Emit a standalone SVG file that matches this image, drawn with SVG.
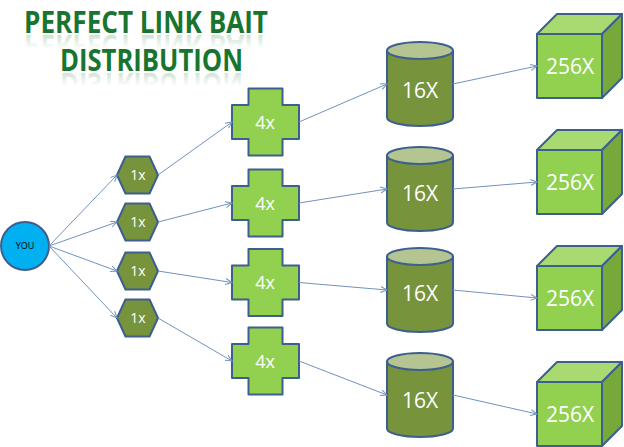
<svg xmlns="http://www.w3.org/2000/svg" xmlns:xlink="http://www.w3.org/1999/xlink" width="624" height="447" viewBox="0 0 624 447">
<style>
.lbl{font-family:"Open Sans","Liberation Sans",sans-serif;fill:#ffffff;text-anchor:middle}
.you{font-family:"Open Sans","Liberation Sans",sans-serif;fill:#000000;text-anchor:middle;font-size:9px}
.title{font-family:"Open Sans","Liberation Sans",sans-serif;font-weight:700;font-size:30px}
.shp{stroke:#3c5f8e;stroke-width:2;stroke-linejoin:round}
.con{fill:none;stroke:#7092be;stroke-width:1;marker-end:url(#arr)}
</style>
<defs>
<marker id="arr" markerUnits="userSpaceOnUse" markerWidth="8" markerHeight="8" refX="6.5" refY="3.5" orient="auto">
<path d="M0,0.5 L6.5,3.5 L0,6.5" fill="none" stroke="#7092be" stroke-width="1"/>
</marker>
<linearGradient id="refl" x1="0" y1="0" x2="0" y2="1">
<stop offset="0" stop-color="#1a7430" stop-opacity="0"/>
<stop offset="0.45" stop-color="#1a7430" stop-opacity="0"/>
<stop offset="1" stop-color="#1a7430" stop-opacity="0.35"/>
</linearGradient>
<path id="hex" d="M-20.5,0 L-12,-18.5 L12,-18.5 L20.5,0 L12,18.5 L-12,18.5 Z"/>
<path id="cross" d="M-17,-33.5 H17 V-17 H33.5 V17 H17 V33.5 H-17 V17 H-33.5 V-17 H-17 Z"/>
<g id="cyl">
<path d="M0,8.5 V75.5 A33,8.5 0 0 0 66,75.5 V8.5 Z" fill="#77933c"/>
<ellipse cx="33" cy="8.5" rx="33" ry="8.5" fill="#b4c592"/>
</g>
<g id="cube">
<rect x="0" y="0" width="65" height="64" fill="#92d050"/>
<path d="M0,0 L20,-20 L85,-20 L65,0 Z" fill="#a9da72"/>
<path d="M65,0 L85,-20 L85,44 L65,64 Z" fill="#76a83a"/>
</g>
</defs>

<g id="title">
<g fill="#17752f">
<text id="t1" class="title" x="146" y="33" text-anchor="middle" textLength="244" lengthAdjust="spacingAndGlyphs">PERFECT LINK BAIT</text>
<text id="t2" class="title" x="151.5" y="70.5" text-anchor="middle" textLength="183" lengthAdjust="spacingAndGlyphs">DISTRIBUTION</text>
</g>
<use xlink:href="#t1" href="#t1" fill="url(#refl)" transform="translate(0,68) scale(1,-1)"/>
<use xlink:href="#t2" href="#t2" fill="url(#refl)" transform="translate(0,143) scale(1,-1)"/>
</g>

<g id="you">
<circle cx="25" cy="246" r="24" fill="#00b0f0" class="shp"/>
<text class="you" x="25" y="249">YOU</text>
</g>

<g id="hex1"><use href="#hex" xlink:href="#hex" x="137.5" y="175" fill="#77933c" class="shp"/><text class="lbl" x="138" y="180" font-size="14">1x</text></g>
<g id="hex2"><use href="#hex" xlink:href="#hex" x="137.5" y="222" fill="#77933c" class="shp"/><text class="lbl" x="138" y="227" font-size="14">1x</text></g>
<g id="hex3"><use href="#hex" xlink:href="#hex" x="137.5" y="271" fill="#77933c" class="shp"/><text class="lbl" x="138" y="276" font-size="14">1x</text></g>
<g id="hex4"><use href="#hex" xlink:href="#hex" x="137.5" y="318" fill="#77933c" class="shp"/><text class="lbl" x="138" y="323" font-size="14">1x</text></g>

<g id="cross1"><use href="#cross" xlink:href="#cross" x="265.5" y="122" fill="#92d050" class="shp"/><text class="lbl" x="265" y="128.5" font-size="18">4x</text></g>
<g id="cross2"><use href="#cross" xlink:href="#cross" x="265.5" y="203" fill="#92d050" class="shp"/><text class="lbl" x="265" y="209.5" font-size="18">4x</text></g>
<g id="cross3"><use href="#cross" xlink:href="#cross" x="265.5" y="282.5" fill="#92d050" class="shp"/><text class="lbl" x="265" y="289" font-size="18">4x</text></g>
<g id="cross4"><use href="#cross" xlink:href="#cross" x="265.5" y="361" fill="#92d050" class="shp"/><text class="lbl" x="265" y="367.5" font-size="18">4x</text></g>

<g id="cyl1"><use href="#cyl" xlink:href="#cyl" x="387" y="42" class="shp"/><text class="lbl" x="420" y="97.5" font-size="21">16X</text></g>
<g id="cyl2"><use href="#cyl" xlink:href="#cyl" x="387" y="147" class="shp"/><text class="lbl" x="420" y="200.5" font-size="21">16X</text></g>
<g id="cyl3"><use href="#cyl" xlink:href="#cyl" x="387" y="248" class="shp"/><text class="lbl" x="420" y="300.5" font-size="21">16X</text></g>
<g id="cyl4"><use href="#cyl" xlink:href="#cyl" x="387" y="353" class="shp"/><text class="lbl" x="420" y="407.5" font-size="21">16X</text></g>

<g id="cube1"><use href="#cube" xlink:href="#cube" x="537" y="34" class="shp"/><text class="lbl" x="570" y="74" font-size="21">256X</text></g>
<g id="cube2"><use href="#cube" xlink:href="#cube" x="537" y="150" class="shp"/><text class="lbl" x="570" y="190" font-size="21">256X</text></g>
<g id="cube3"><use href="#cube" xlink:href="#cube" x="537" y="266" class="shp"/><text class="lbl" x="570" y="306" font-size="21">256X</text></g>
<g id="cube4"><use href="#cube" xlink:href="#cube" x="537" y="382" class="shp"/><text class="lbl" x="570" y="422" font-size="21">256X</text></g>

<g id="connectors">
<line class="con" x1="49" y1="246" x2="117" y2="175"/>
<line class="con" x1="49" y1="246" x2="117" y2="222"/>
<line class="con" x1="49" y1="246" x2="117" y2="271"/>
<line class="con" x1="49" y1="246" x2="117" y2="318"/>
<line class="con" x1="158" y1="175" x2="232" y2="122"/>
<line class="con" x1="158" y1="222" x2="232" y2="203"/>
<line class="con" x1="158" y1="271" x2="232" y2="282.5"/>
<line class="con" x1="158" y1="318" x2="232" y2="361"/>
<line class="con" x1="299" y1="122" x2="387" y2="84"/>
<line class="con" x1="299" y1="203" x2="387" y2="189"/>
<line class="con" x1="299" y1="282.5" x2="387" y2="290"/>
<line class="con" x1="299" y1="361" x2="387" y2="395"/>
<line class="con" x1="453" y1="84" x2="537" y2="66"/>
<line class="con" x1="453" y1="189" x2="537" y2="182"/>
<line class="con" x1="453" y1="290" x2="537" y2="298"/>
<line class="con" x1="453" y1="395" x2="537" y2="414"/>
</g>
</svg>
